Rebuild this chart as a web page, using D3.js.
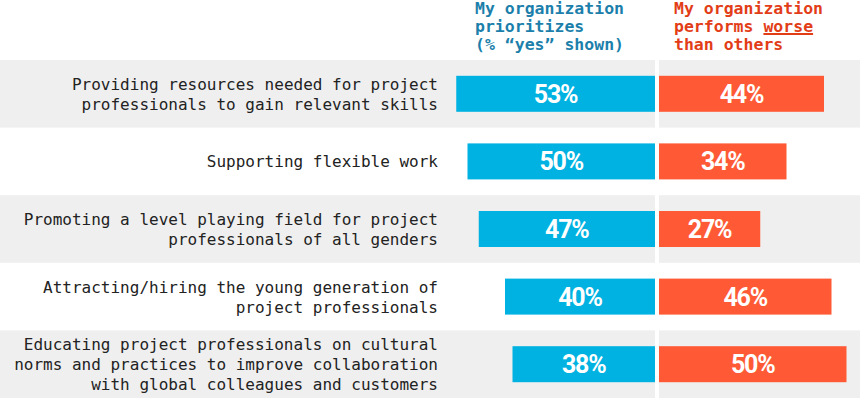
<!DOCTYPE html>
<html>
<head>
<meta charset="utf-8">
<script src="https://cdn.jsdelivr.net/npm/d3@7"></script>
<style>
  html, body { margin: 0; padding: 0; background: #fff; }
  svg { display: block; }
</style>
</head>
<body>
<svg id="chart" width="860" height="398"></svg>
<script>
// data
const categories = [
  ["Providing resources needed for project", "professionals to gain relevant skills"],
  ["Supporting flexible work"],
  ["Promoting a level playing field for project", "professionals of all genders"],
  ["Attracting/hiring the young generation of", "project professionals"],
  ["Educating project professionals on cultural", "norms and practices to improve collaboration", "with global colleagues and customers"]
];
const prioritizes = [53, 50, 47, 40, 38];
const performsWorse = [44, 34, 27, 46, 50];
const headerLeft = ["My organization", "prioritizes", "(% \u201cyes\u201d shown)"];
const headerRight = ["My organization", "performs worse", "than others"];

const width = 860, height = 398;
const rowsTop = 60, rowStep = 67.6;
const mid = 657, gap = 2;
const barH = 36;

const blue = "#00b2e1", orange = "#ff5a35";
const blueText = "#1c7fab", orangeText = "#e23d17";

const svg = d3.select("#chart");

const y = d3.scaleBand()
  .domain(d3.range(categories.length))
  .range([rowsTop, rowsTop + rowStep * categories.length])
  .paddingInner(0).paddingOuter(0);

const x = d3.scaleLinear().domain([0, 100]).range([0, 375]);

// background bands (every other row)
svg.append("g")
  .selectAll("rect")
  .data(d3.range(categories.length).filter(i => i % 2 === 0))
  .join("rect")
    .attr("x", 0)
    .attr("y", i => y(i))
    .attr("width", width)
    .attr("height", y.bandwidth())
    .attr("fill", "#efefef");

// divider
svg.append("rect")
  .attr("x", mid - gap)
  .attr("y", rowsTop)
  .attr("width", gap * 2)
  .attr("height", height - rowsTop)
  .attr("fill", "#fff");

const rows = svg.append("g")
  .selectAll("g")
  .data(categories.map((c, i) => ({ lines: c, a: prioritizes[i], b: performsWorse[i], i })))
  .join("g")
    .attr("transform", d => `translate(0, ${y(d.i) + y.bandwidth() / 2})`);

// labels
rows.append("text")
  .attr("text-anchor", "end")
  .attr("font-family", "DejaVu Sans Mono, monospace")
  .attr("font-size", 16)
  .attr("fill", "#222")
  .selectAll("tspan")
  .data(d => d.lines.map((t, j) => ({ t, j, n: d.lines.length })))
  .join("tspan")
    .attr("x", 438)
    .attr("y", d => 6 + (d.j - (d.n - 1) / 2) * 20)
    .text(d => d.t);

// bars
rows.append("rect")
  .attr("x", d => mid - gap - x(d.a))
  .attr("y", -barH / 2)
  .attr("width", d => x(d.a))
  .attr("height", barH)
  .attr("fill", blue);

rows.append("rect")
  .attr("x", mid + gap)
  .attr("y", -barH / 2)
  .attr("width", d => x(d.b))
  .attr("height", barH)
  .attr("fill", orange);

const valueText = (sel, xf, vf) => sel.append("text")
  .attr("x", xf)
  .attr("y", 9)
  .attr("text-anchor", "middle")
  .attr("font-family", "Roboto, sans-serif")
  .attr("font-weight", 700)
  .attr("font-size", 25)
  .attr("letter-spacing", -1.2)
  .attr("fill", "#fff")
  .text(vf);

valueText(rows, d => mid - gap - x(d.a) / 2, d => d.a + "%");
valueText(rows, d => mid + gap + x(d.b) / 2, d => d.b + "%");

// headers
function header(lines, xPos, color) {
  const t = svg.append("text")
    .attr("font-family", "DejaVu Sans Mono, monospace")
    .attr("font-weight", 700)
    .attr("font-size", 16.5)
    .attr("fill", color);
  t.selectAll("tspan")
    .data(lines)
    .join("tspan")
      .attr("x", xPos)
      .attr("y", (d, j) => 14 + j * 18)
      .text(d => d);
  return t;
}

header(headerLeft, 475, blueText);
const right = header(headerRight, 674, orangeText);

// underline "worse"
const tsp = right.selectAll("tspan").nodes()[1];
const pre = tsp.getSubStringLength(0, 9);
const wlen = tsp.getSubStringLength(9, 5);
svg.append("rect")
  .attr("x", 674 + pre)
  .attr("y", 33)
  .attr("width", wlen)
  .attr("height", 2)
  .attr("fill", orangeText);
</script>
</body>
</html>
